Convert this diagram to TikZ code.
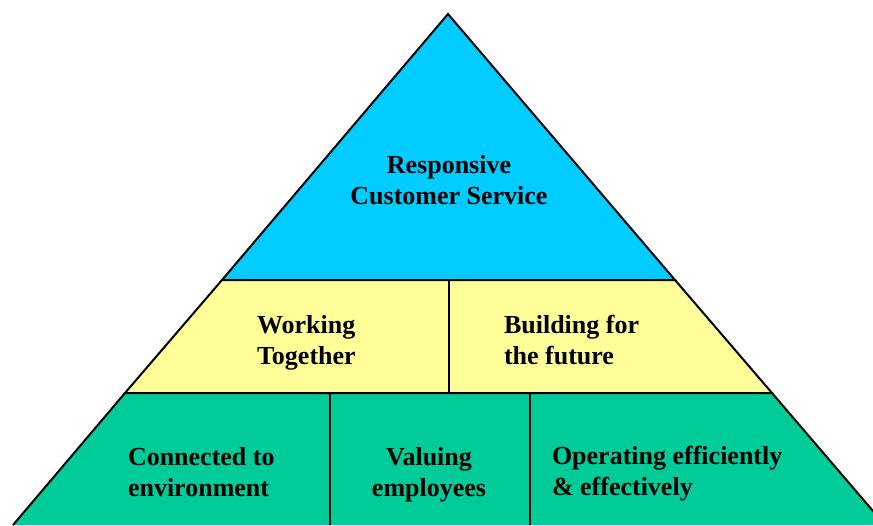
\documentclass[tikz,border=0pt]{standalone}
\usepackage{fontspec}
\setmainfont{Liberation Serif}
\usepackage{tikz}
\definecolor{skyblue}{rgb}{0,0.8,1}
\definecolor{paleyellow}{rgb}{1,1,0.6}
\definecolor{seagreen}{rgb}{0,0.8,0.6}
\tikzset{label/.style={inner sep=0pt, font=\fontsize{26}{31}\selectfont\bfseries}}

\begin{document}
\begin{tikzpicture}[x=1pt, y=-1pt, line width=2pt]
\useasboundingbox (0,0) rectangle (873,525);
\begin{scope}
\clip (0,0) rectangle (873,525);
% three bands of the pyramid
\filldraw[fill=skyblue] (448,14) -- (675,280) -- (222,280) -- cycle;
\filldraw[fill=paleyellow] (222,280) -- (675,280) -- (772,393) -- (125,393) -- cycle;
\fill[seagreen] (125,393) -- (772,393) -- (885,525) -- (13,525) -- cycle;
\draw (13,525) -- (125,393) -- (772,393) -- (885,525);
\draw[line width=2.5pt] (222,280) -- (675,280);
\draw[line width=2.5pt] (125,393) -- (772,393);
% dividers
\draw (449,280) -- (449,393);
\draw (330,393) -- (330,525);
\draw (530,393) -- (530,525);
\end{scope}
\node[label, align=center, anchor=north] (service) at (449,154) {Responsive\\Customer Service};
\node[label, align=left, anchor=north west] (together) at (256,314) {Working\\Together};
\node[label, align=left, anchor=north west] (future) at (503,314) {Building for\\the future};
\node[label, align=left, anchor=north west] (connected) at (127,446) {Connected to\\environment};
\node[label, align=center, anchor=north] (valuing) at (429,446) {Valuing\\employees};
\node[label, align=left, anchor=north west] (operating) at (551,445) {Operating efficiently\\\& effectively};
\end{tikzpicture}
\end{document}
